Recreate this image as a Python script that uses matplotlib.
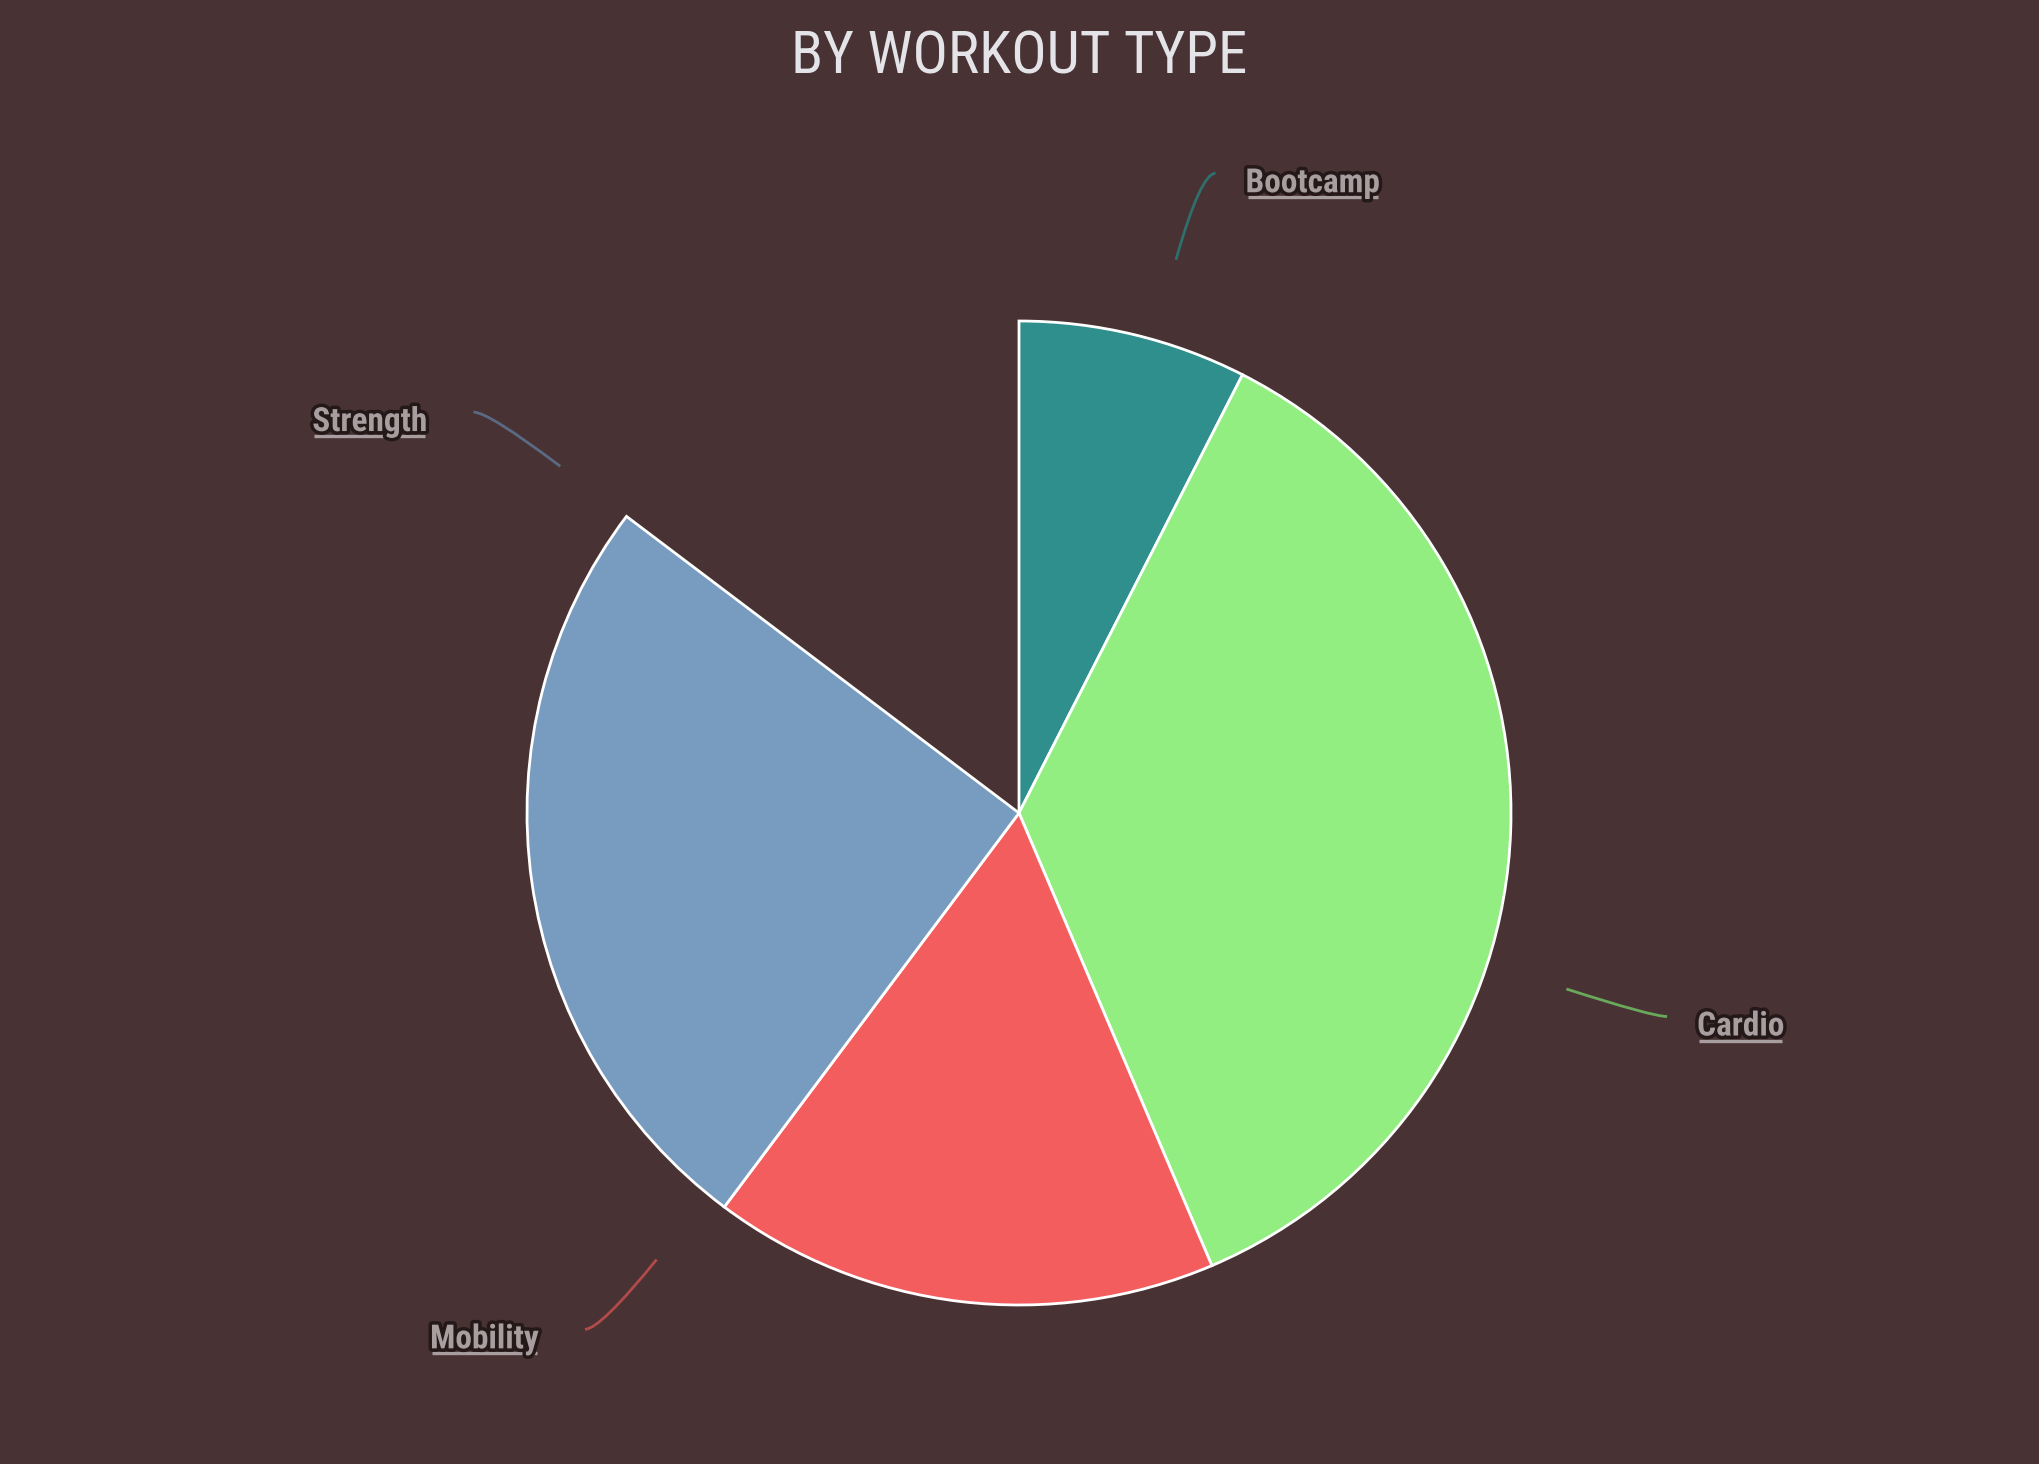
import numpy as np
import matplotlib
matplotlib.use('Agg')
import matplotlib.pyplot as plt
import matplotlib.patheffects as pe
from matplotlib import font_manager
from matplotlib.path import Path
from matplotlib.patches import PathPatch

# data (share of sessions, %)
labels = ['Bootcamp', 'Cardio', 'Mobility', 'Strength']
values = [8.8, 42.3, 19.5, 29.4]
colors = ['#2e8f8d', '#92ee80', '#f35d5d', '#789bc0']
line_colors = ['#2f6f6d', '#6aa85c', '#b04b4a', '#5a6a82']
title = 'BY WORKOUT TYPE'

# the picture caught the pie mid-animation: only ~85% of the sweep is drawn
sweep = 0.853

bg = '#483233'
W, H = 2040, 1464

names = {f.name for f in font_manager.fontManager.ttflist}
cond = 'Roboto Condensed' if 'Roboto Condensed' in names else 'Roboto'

fig = plt.figure(figsize=(W / 100, H / 100), dpi=100, facecolor=bg)
ax = fig.add_axes([0, 0, 1, 1])
ax.set_facecolor(bg)

cx, cy, r = 1019, H - 813, 492
vals = np.array(values) / sum(values)
ax.pie(vals * sweep, normalize=False, startangle=90, counterclock=False,
       colors=colors, center=(cx, cy), radius=r,
       wedgeprops=dict(edgecolor='white', linewidth=2))

ax.set_xlim(0, W)
ax.set_ylim(0, H)
ax.set_aspect('equal')
ax.axis('off')

# labels at the final (full sweep) mid angles, clockwise from top
ends = np.cumsum(vals) * 360
mids = ends - vals * 360 / 2
texts = []
for lab, ang, lc in zip(labels, mids, line_colors):
    t = np.radians(ang)
    d = np.array([np.sin(t), np.cos(t)])
    p0 = np.array([cx, cy]) + 575 * d
    p1 = p0 + 90 * d
    side = 1 if d[0] >= 0 else -1
    p2 = p1 + np.array([15 * side, 0])
    path = Path([p0, p1, p2], [Path.MOVETO, Path.CURVE3, Path.CURVE3])
    ax.add_patch(PathPatch(path, fill=False, edgecolor=lc, lw=2))
    gap = 30 if side > 0 else 46
    tx = ax.text(p2[0] + gap * side, p2[1] - 19, lab,
                 ha='left' if side > 0 else 'right', va='baseline',
                 fontsize=24, fontweight='bold', family=[cond, 'DejaVu Sans'],
                 color='#a89e9f',
                 path_effects=[pe.withStroke(linewidth=5, foreground='#241819')])
    texts.append(tx)

ax.text(1019, H - 57, title, ha='center', va='center', fontsize=42.5,
        family=[cond, 'DejaVu Sans'], color='#e4e3e8')

# underline the labels
fig.canvas.draw()
rend = fig.canvas.get_renderer()
for tx in texts:
    bb = tx.get_window_extent(rend)
    x0, x1 = bb.x0 + 2, bb.x1 - 2
    y = tx.get_position()[1] - 5
    ax.plot([x0, x1], [y, y], color='#a89e9f', lw=2.4, solid_capstyle='butt')

fig.savefig('out.png', dpi=100, facecolor=bg)
